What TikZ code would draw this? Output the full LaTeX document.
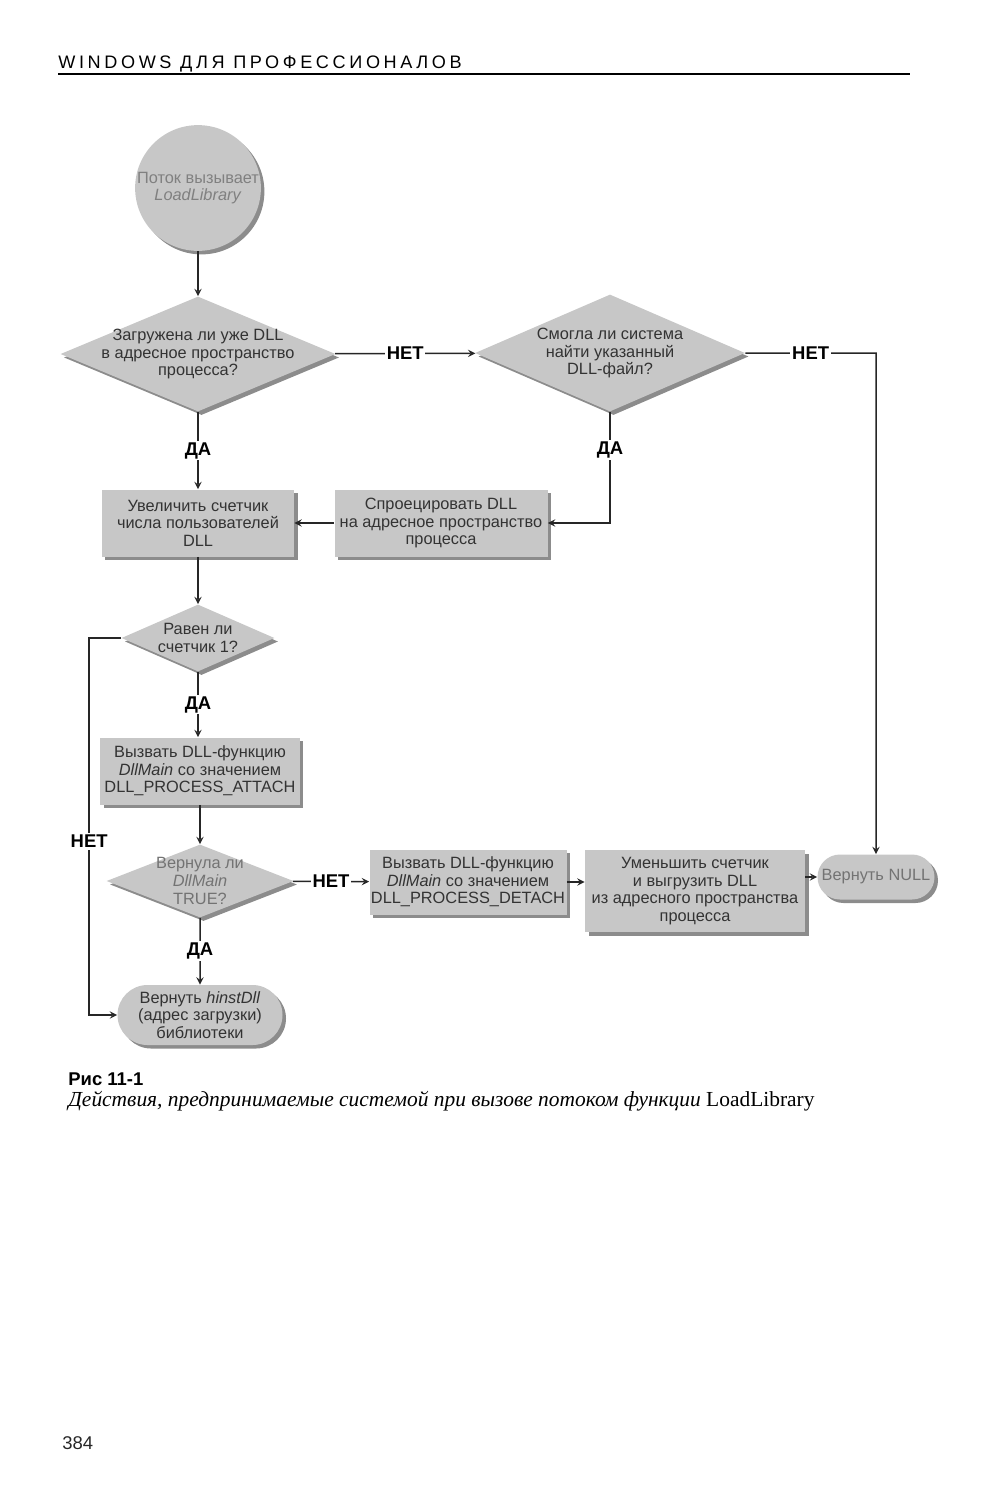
\documentclass[tikz,border=0pt]{standalone}
\usepackage{fontspec}
\setmainfont{Liberation Serif}
\setsansfont{Liberation Sans}
\newfontfamily\headfont[LetterSpace=20]{Liberation Sans}
\usetikzlibrary{shapes.geometric,shapes.misc,shadows}

\begin{document}
\begin{tikzpicture}[x=0.2mm, y=-0.2mm, >=stealth,
    every node/.style={font=\sffamily\fontsize{9.3}{10}\selectfont, text=black!80},
    boxfill/.style={fill=black!22, draw=none, drop shadow={shadow xshift=0.7mm, shadow yshift=-0.7mm, fill=black!45, opacity=1}},
    decision/.style={diamond, boxfill, inner sep=0pt},
    action/.style={rectangle, boxfill, inner sep=0pt, align=center},
    terminal/.style={rounded rectangle, boxfill, inner sep=0pt, align=center},
    answer/.style={fill=white, inner sep=1pt, font=\sffamily\bfseries\fontsize{10.5}{11}\selectfont, text=black},
    flow/.style={->, black!85, line width=0.3mm}]
    \useasboundingbox (0,0) rectangle (1005,1500);

    % running head
    \node[anchor=base west, inner sep=0pt, font=\headfont\fontsize{10.3}{11}\selectfont, text=black] (head) at (58,68) {WINDOWS ДЛЯ ПРОФЕССИОНАЛОВ};
    \draw[line width=0.45mm] (58,74) -- (910,74);

    % flowchart
    \node[circle, boxfill, minimum size=24.8mm, inner sep=0pt, align=center, text=black!50] (start) at (198,188) {Поток вызывает\\\textit{LoadLibrary}};
    \node[decision, minimum width=55mm, minimum height=23mm, label={[align=center]center:Загружена ли уже DLL\\в адресное пространство\\процесса?}] (q1) at (198,354) {};
    \node[decision, minimum width=54mm, minimum height=23.4mm, label={[align=center]center:Смогла ли система\\найти указанный\\DLL-файл?}] (q2) at (610,353) {};
    \node[action, minimum width=38.4mm, minimum height=13.4mm] (inc) at (198,523) {Увеличить счетчик\\числа пользователей\\DLL};
    \node[action, minimum width=42.6mm, minimum height=13.4mm] (map) at (441,523) {Спроецировать DLL\\на адресное пространство\\процесса};
    \node[decision, minimum width=30.6mm, minimum height=13.4mm, label={[align=center]center:Равен ли\\счетчик 1?}] (q3) at (198,638) {};
    \node[action, minimum width=39.8mm, minimum height=13.4mm] (attach) at (200,771) {Вызвать DLL-функцию\\\textit{DllMain} со значением\\DLL\_PROCESS\_ATTACH};
    \node[decision, minimum width=37.4mm, minimum height=14.6mm, label={[align=center, text=black!55]center:Вернула ли\\\textit{DllMain}\\TRUE?}] (q4) at (200,881) {};
    \node[action, minimum width=39.4mm, minimum height=13mm] (detach) at (468,882) {Вызвать DLL-функцию\\\textit{DllMain} со значением\\DLL\_PROCESS\_DETACH};
    \node[action, minimum width=44mm, minimum height=16.4mm] (unload) at (695,891) {Уменьшить счетчик\\и выгрузить DLL\\из адресного пространства\\процесса};
    \node[terminal, minimum width=23.4mm, minimum height=9mm, text=black!55] (retnull) at (876,877) {Вернуть NULL};
    \node[terminal, minimum width=33mm, minimum height=12mm] (rethinst) at (200,1015) {Вернуть \textit{hinstDll}\\(адрес загрузки)\\библиотеки};

    \draw[flow] (start) -- (q1);
    \draw[flow] (q1) -- node[answer] {НЕТ} (q2);
    \draw[flow] (q2.east) -- node[answer] {НЕТ} (q2.east -| retnull) -- (retnull);
    \draw[flow] (q1) -- node[answer] {ДА} (inc);
    \draw[flow] (q2.south) |- node[answer, pos=0.17] {ДА} (map.east);
    \draw[flow] (map) -- (inc);
    \draw[flow] (inc) -- (q3);
    \draw[flow] (q3.west) -- ++(-32,0) |- node[answer, pos=0.27] {НЕТ} (rethinst.west);
    \draw[flow] (q3.south) -- node[answer] {ДА} (q3.south |- attach.north);
    \draw[flow] (attach) -- (q4);
    \draw[flow] (q4) -- node[answer] {НЕТ} (detach);
    \draw[flow] (detach.east) -- (detach.east -| unload.west);
    \draw[flow] (retnull -| unload.east) -- (retnull.west);
    \draw[flow] (q4) -- node[answer] {ДА} (rethinst);

    % caption and folio
    \node[anchor=base west, inner sep=0pt, font=\sffamily\bfseries\fontsize{10.5}{11}\selectfont, text=black] (fignum) at (68,1085) {Рис 11-1};
    \node[anchor=base west, inner sep=0pt, font=\rmfamily\fontsize{12.2}{12}\selectfont, text=black] (figcap) at (68,1106) {\textit{Действия, предпринимаемые системой при вызове потоком функции} LoadLibrary};
    \node[anchor=base west, inner sep=0pt, font=\sffamily\fontsize{10.5}{11}\selectfont, text=black!85] (folio) at (62,1449) {384};
\end{tikzpicture}
\end{document}
